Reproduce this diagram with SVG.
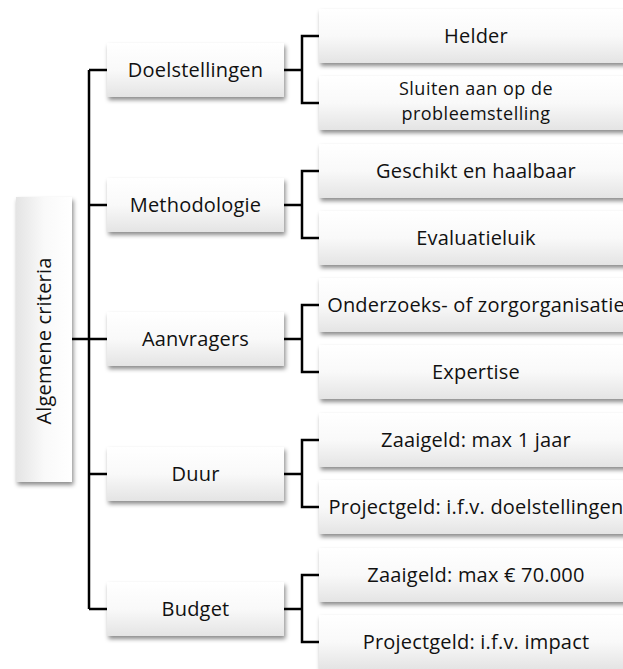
<svg xmlns="http://www.w3.org/2000/svg" width="623" height="669" viewBox="0 0 623 669">
<style>
.box{fill:url(#g);filter:url(#sh)}
.root{fill:url(#gh);filter:url(#sh)}
.t{font-family:"Open Sans","Liberation Sans",sans-serif;font-size:20px;letter-spacing:0.2px;fill:#111;text-anchor:middle}
.s{font-size:18px;letter-spacing:0.5px}
.c{fill:none;stroke:#000;stroke-width:2.5}
</style>
<defs>
<linearGradient id="g" x1="0" y1="0" x2="0" y2="1">
<stop offset="0" stop-color="#ffffff"/><stop offset="0.5" stop-color="#f9f9f9"/><stop offset="1" stop-color="#e4e4e4"/>
</linearGradient>
<linearGradient id="gh" x1="1" y1="0" x2="0" y2="0">
<stop offset="0" stop-color="#ffffff"/><stop offset="0.5" stop-color="#f9f9f9"/><stop offset="1" stop-color="#e4e4e4"/>
</linearGradient>
<filter id="sh" x="-10%" y="-20%" width="130%" height="150%">
<feDropShadow dx="1.5" dy="3" stdDeviation="2" flood-color="#000" flood-opacity="0.45"/>
</filter>
</defs>
<g id="connectors">
<path class="c" d="M72 339H89M89 70V609M89 70H107M89 205H107M89 339H107M89 474H107M89 609H107"/>
<path class="c" d="M284 70H302M319 36H302V103H319"/>
<path class="c" d="M284 205H302M319 171H302V238H319"/>
<path class="c" d="M284 339H302M319 305H302V372H319"/>
<path class="c" d="M284 474H302M319 440H302V507H319"/>
<path class="c" d="M284 609H302M319 575H302V642H319"/>
</g>
<g id="root"><rect class="root" x="16" y="197" width="56" height="285"/><text class="t" transform="translate(51 341) rotate(-90)">Algemene criteria</text></g>
<g id="doelstellingen"><rect class="box" x="107" y="43" width="177" height="54"/><text class="t" x="195.5" y="77">Doelstellingen</text></g>
<g id="methodologie"><rect class="box" x="107" y="178" width="177" height="54"/><text class="t" x="195.5" y="212">Methodologie</text></g>
<g id="aanvragers"><rect class="box" x="107" y="312" width="177" height="54"/><text class="t" x="195.5" y="346">Aanvragers</text></g>
<g id="duur"><rect class="box" x="107" y="447" width="177" height="54"/><text class="t" x="195.5" y="481">Duur</text></g>
<g id="budget"><rect class="box" x="107" y="582" width="177" height="54"/><text class="t" x="195.5" y="616">Budget</text></g>
<g id="helder"><rect class="box" x="319" y="9" width="314" height="54"/><text class="t" x="476" y="43">Helder</text></g>
<g id="sluiten"><rect class="box" x="319" y="76" width="314" height="54"/><text class="t s"><tspan x="476" y="95">Sluiten aan op de</tspan><tspan x="476" y="120">probleemstelling</tspan></text></g>
<g id="geschikt"><rect class="box" x="319" y="144" width="314" height="54"/><text class="t" x="476" y="178">Geschikt en haalbaar</text></g>
<g id="evaluatieluik"><rect class="box" x="319" y="211" width="314" height="54"/><text class="t" x="476" y="245">Evaluatieluik</text></g>
<g id="onderzoeks"><rect class="box" x="319" y="278" width="314" height="54"/><text class="t" x="476" y="312">Onderzoeks- of zorgorganisatie</text></g>
<g id="expertise"><rect class="box" x="319" y="345" width="314" height="54"/><text class="t" x="476" y="379">Expertise</text></g>
<g id="zaaigeld1"><rect class="box" x="319" y="413" width="314" height="54"/><text class="t" x="476" y="447">Zaaigeld: max 1 jaar</text></g>
<g id="projectgeld1"><rect class="box" x="319" y="480" width="314" height="54"/><text class="t" x="476" y="514">Projectgeld: i.f.v. doelstellingen</text></g>
<g id="zaaigeld2"><rect class="box" x="319" y="548" width="314" height="54"/><text class="t" x="476" y="582">Zaaigeld: max € 70.000</text></g>
<g id="projectgeld2"><rect class="box" x="319" y="615" width="314" height="54"/><text class="t" x="476" y="649">Projectgeld: i.f.v. impact</text></g>
</svg>
